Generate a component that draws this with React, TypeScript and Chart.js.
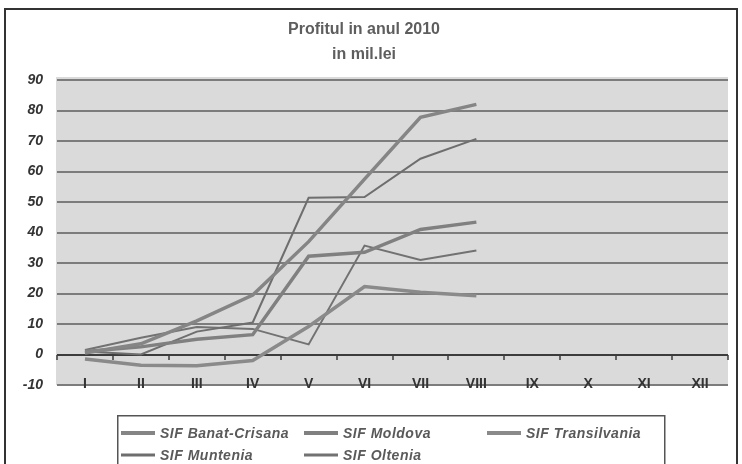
import React, { useEffect, useRef } from "react";
import { Chart, registerables } from "chart.js";

Chart.register(...registerables);

// ---- data ----
const months = ["I", "II", "III", "IV", "V", "VI", "VII", "VIII", "IX", "X", "XI", "XII"];
const titleLines = ["Profitul in anul 2010", "in mil.lei"];
const seriesNames = ["SIF Banat-Crisana", "SIF Moldova", "SIF Transilvania", "SIF Muntenia", "SIF Oltenia"];
const banatCrisana = [0.5, 3.5, 11, 19.5, 37, 57.5, 77.8, 82];
const moldova = [1, 2.5, 5, 6.5, 32.2, 33.5, 41, 43.4];
const transilvania = [-1.5, -3.5, -3.7, -2, 9.2, 22.3, 20.4, 19.3];
const muntenia = [1, 0, 7.5, 10.5, 51.4, 51.6, 64.2, 70.7];
const oltenia = [1.5, 5.5, 9, 8.4, 3.3, 35.7, 31, 34.1];
const yMin = -10;
const yMax = 90;
const yStep = 10;

const seriesValues = [banatCrisana, moldova, transilvania, muntenia, oltenia];
const seriesColors = ["#858585", "#808080", "#8a8a8a", "#6e6e6e", "#727272"];
const seriesWidths = [3.5, 3.5, 3.5, 2, 2];

const FONT = "'Liberation Sans', Arial, Helvetica, sans-serif";

const plotBg = {
  id: "plotBg",
  beforeDraw(chart: any) {
    const { ctx, chartArea: a } = chart;
    ctx.save();
    ctx.fillStyle = "#ffffff";
    ctx.fillRect(0, 0, chart.width, chart.height);
    ctx.fillStyle = "#dadada";
    ctx.fillRect(a.left - 1, a.top - 3, a.right - a.left + 1, a.bottom - a.top + 3);
    ctx.restore();
  },
};

// tick marks between categories on the category axis that crosses at 0
const zeroTicks = {
  id: "zeroTicks",
  beforeDatasetsDraw(chart: any) {
    const { ctx, scales } = chart;
    const xs = scales.x;
    const y0 = Math.round(scales.y.getPixelForValue(0));
    ctx.save();
    ctx.strokeStyle = "#3c3c3c";
    ctx.lineWidth = 1.5;
    ctx.beginPath();
    const n = xs.ticks.length;
    for (let i = 0; i <= n; i++) {
      const px = Math.round(xs.getPixelForValue(i - 0.5));
      ctx.moveTo(px, y0);
      ctx.lineTo(px, y0 + 5);
    }
    ctx.stroke();
    ctx.restore();
  },
};

// outer frame and boxed legend (3 columns)
const legendCols = [121, 304, 487];
const legendRows = [433, 455];
const frameAndLegend = {
  id: "frameAndLegend",
  afterDraw(chart: any) {
    const { ctx } = chart;
    ctx.save();
    ctx.strokeStyle = "#333";
    ctx.lineWidth = 2;
    ctx.strokeRect(5, 9, 732, 470);
    ctx.strokeStyle = "#555";
    ctx.lineWidth = 1.5;
    ctx.strokeRect(117.75, 415.75, 547, 60);
    ctx.font = `italic bold 14px ${FONT}`;
    ctx.textBaseline = "middle";
    ctx.textAlign = "left";
    try {
      (ctx as any).letterSpacing = "0.5px";
    } catch (e) {}
    seriesNames.forEach((name, i) => {
      const col = i < 3 ? i : i - 3;
      const row = i < 3 ? 0 : 1;
      const x = legendCols[col];
      const cy = legendRows[row];
      const h = seriesWidths[i] > 3 ? 4 : 3;
      ctx.fillStyle = seriesColors[i];
      ctx.fillRect(x, cy - h / 2, 34, h);
      ctx.fillStyle = "#5a5a5a";
      ctx.fillText(name, x + 39, cy + 1);
    });
    ctx.restore();
  },
};

export default function App() {
  const ref = useRef<HTMLCanvasElement | null>(null);

  useEffect(() => {
    document.body.style.margin = "0";
    const canvas = ref.current;
    if (!canvas) return;
    const chart = new Chart(canvas, {
      type: "line",
      data: {
        labels: months,
        datasets: seriesNames.map((name, i) => ({
          label: name,
          data: seriesValues[i],
          borderColor: seriesColors[i],
          borderWidth: seriesWidths[i],
          pointRadius: 0,
          tension: 0,
        })),
      },
      options: {
        animation: false,
        responsive: false,
        maintainAspectRatio: false,
        layout: { padding: { top: 5, left: 0, right: 14, bottom: 79 } },
        plugins: {
          legend: { display: false },
          tooltip: { enabled: false },
          title: {
            display: true,
            text: titleLines,
            color: "#5e5e5e",
            font: { family: FONT, size: 16, weight: "bold", lineHeight: 1.5625 },
            padding: { top: 12.5, bottom: 12.5 },
          },
        },
        scales: {
          x: {
            type: "category",
            position: { y: 0 } as any,
            offset: true,
            grid: { display: false },
            border: { display: false },
            ticks: {
              color: "#333",
              font: { family: FONT, size: 14, weight: "bold" },
              padding: 13,
              autoSkip: false,
              maxRotation: 0,
            },
          },
          y: {
            min: yMin,
            max: yMax,
            afterFit: (s: any) => {
              s.width = 57;
            },
            ticks: {
              stepSize: yStep,
              color: "#333",
              font: { family: FONT, size: 14, weight: "bold", style: "italic" },
              padding: 14,
            },
            grid: {
              color: (c: any) => (c.tick && c.tick.value === 0 ? "#3c3c3c" : "#7c7c7c"),
              lineWidth: 2,
              drawTicks: false,
            },
            border: { display: false },
          },
        },
      },
      plugins: [plotBg, zeroTicks, frameAndLegend],
    });
    return () => chart.destroy();
  }, []);

  return (
    <div style={{ position: "relative", width: 742, height: 464, overflow: "hidden" }}>
      <canvas ref={ref} width={742} height={464} style={{ display: "block", width: 742, height: 464 }} />
    </div>
  );
}
